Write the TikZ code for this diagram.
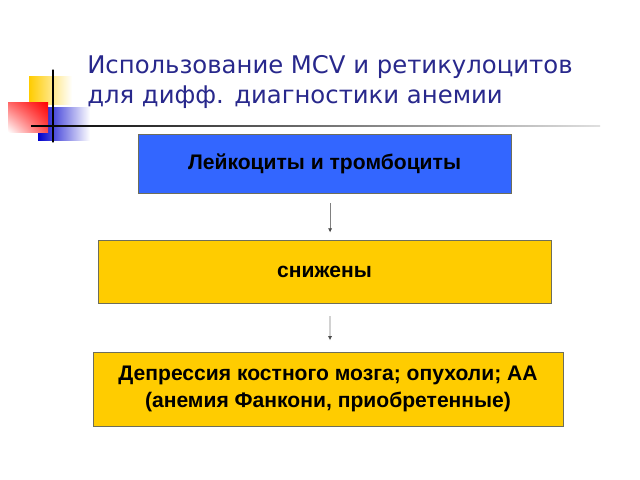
\documentclass[tikz,border=0pt]{standalone}
\usepackage{fontspec}
\setmainfont{Liberation Sans}
\newfontfamily\titlefont{DejaVu Sans}
\usetikzlibrary{arrows.meta,shadings}
\definecolor{titleblue}{RGB}{40,40,140}
\definecolor{boxblue}{RGB}{51,102,255}
\definecolor{boxyellow}{RGB}{255,204,0}
\definecolor{boxedge}{RGB}{110,110,90}

\tikzset{
  databox/.style={draw=boxedge, line width=0.6pt, align=center,
    font=\fontsize{15}{19.5}\selectfont\bfseries, inner sep=0pt},
  flowarrow/.style={draw=gray, line width=0.6pt,
    -{Latex[length=3pt,width=3pt,black!70]}}
}

\begin{document}
\begin{tikzpicture}[x=0.025cm, y=-0.025cm]
    \useasboundingbox (0,0) rectangle (640,480);
    \fill[white] (0,0) rectangle (640,480);

    \shade[left color=boxyellow, right color=white] (29,76) rectangle (72,104);
    \shade[left color=blue!80!black, right color=white] (38,107) rectangle (90,140);
    \shade[upper right=red, lower left=white, upper left=red!60, lower right=red!70] (8,102) rectangle (48,132);
    \draw[thick, line cap = round] (53,70) -- (53,142);
    \shade[left color=black, right color=gray!25] (31,125.2) rectangle (600,126.8);

    \node[anchor=base west, text=titleblue, align=left, inner sep=0pt,
      font=\titlefont\fontsize{17.3}{21.3}\selectfont] (title) at (87,103)
      {Использование MCV и ретикулоцитов\\для дифф. диагностики анемии};

    \node[databox, fill=boxblue, minimum width=9.325cm, minimum height=1.475cm]
      (cells) at (324.5,163.5) {Лейкоциты и тромбоциты};
    \node[databox, fill=boxyellow, minimum width=11.325cm, minimum height=1.575cm]
      (low) at (324.5,271.5) {снижены};
    \node[databox, fill=boxyellow, minimum width=11.75cm, minimum height=1.85cm]
      (cause) at (328,389) {Депрессия костного мозга; опухоли; АА\\(анемия Фанкони, приобретенные)};

    \draw[flowarrow, shorten <=7pt, shorten >=5pt]
      ([xshift=0.14cm]cells.south) -- ([xshift=0.14cm]low.north);
    \draw[flowarrow, shorten <=9pt, shorten >=8pt]
      ([xshift=0.14cm]low.south) -- ([xshift=0.05cm]cause.north);
  \end{tikzpicture}
\end{document}
